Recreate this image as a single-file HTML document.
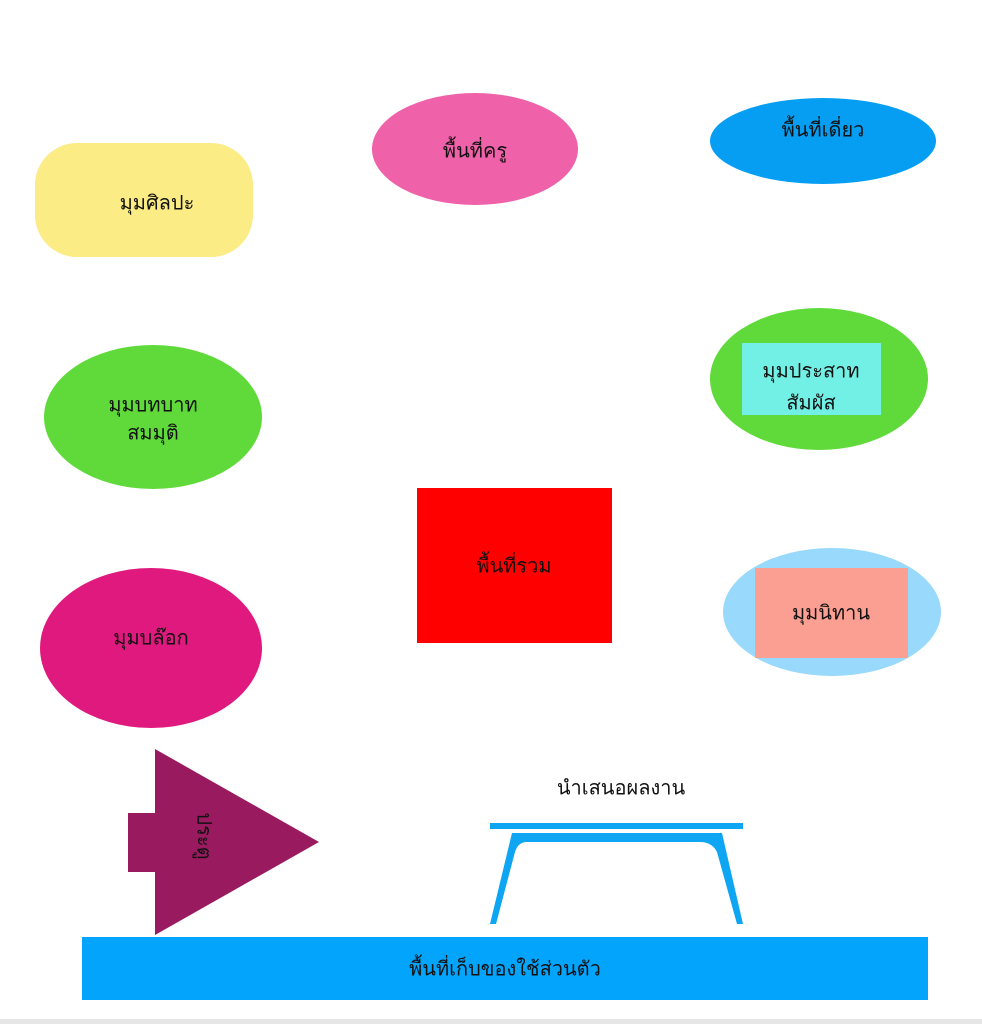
<!DOCTYPE html>
<html><head><meta charset="utf-8"><style>
html,body{margin:0;padding:0;background:#fff;width:982px;height:1024px;overflow:hidden}
svg text{font-family:"Liberation Sans","DejaVu Sans",sans-serif;fill:#111;text-anchor:middle;dominant-baseline:middle;font-size:20px}
</style></head><body>
<svg width="982" height="1024" viewBox="0 0 982 1024" xmlns="http://www.w3.org/2000/svg">
<defs><clipPath id="c1"><rect x="742" y="343" width="139" height="72"/></clipPath></defs>
<rect width="982" height="1024" fill="#fff"/>
<rect x="0" y="1019" width="982" height="5" fill="#e6e6e6"/>
<rect x="35" y="143" width="218" height="114" rx="42" fill="#fbec86"/>
<text x="157" y="204">มุมศิลปะ</text>
<ellipse cx="475" cy="149" rx="103" ry="56" fill="#ef61a8"/>
<text x="475" y="152">พื้นที่ครู</text>
<ellipse cx="823" cy="141" rx="113" ry="43" fill="#069ef2"/>
<text x="823" y="131">พื้นที่เดี่ยว</text>
<ellipse cx="153" cy="417" rx="109" ry="72" fill="#60da3a"/>
<text x="153" y="406">มุมบทบาท</text>
<text x="153" y="434">สมมุติ</text>
<ellipse cx="819" cy="379" rx="109" ry="71" fill="#60da3a"/>
<rect x="742" y="343" width="139" height="72" fill="#73f0e5"/>
<g clip-path="url(#c1)">
<text x="811" y="372">มุมประสาท</text>
<text x="811" y="404" font-size="18">สัมผัส</text>
</g>
<rect x="417" y="488" width="195" height="155" fill="#ff0000"/>
<text x="514" y="567">พื้นที่รวม</text>
<ellipse cx="151" cy="648" rx="111" ry="80" fill="#e0197e"/>
<text x="151" y="639">มุมบล๊อก</text>
<ellipse cx="832" cy="612" rx="109" ry="64" fill="#99d9fb"/>
<rect x="755" y="568" width="153" height="90" fill="#fb9f93"/>
<text x="831" y="614">มุมนิทาน</text>
<polygon points="155,749 319,842 155,935 155,872 128,872 128,813 155,813" fill="#991a5e"/>
<text x="203" y="836" transform="rotate(90 203 836)" font-size="19">ประตู</text>
<text x="621" y="789" font-size="28">นำเสนอผลงาน</text>
<rect x="490" y="823" width="253" height="6" fill="#0ea5f2"/>
<path d="M512,833 L722,833 L743,924 L737,924 L717,852 Q712,842 700,842 L527,842 Q518,842 515,852 L496,924 L490,924 Z" fill="#0ea5f2"/>
<rect x="82" y="937" width="846" height="63" fill="#03a5fc"/>
<text x="505" y="970" font-size="21">พื้นที่เก็บของใช้ส่วนตัว</text>
</svg>
</body></html>
